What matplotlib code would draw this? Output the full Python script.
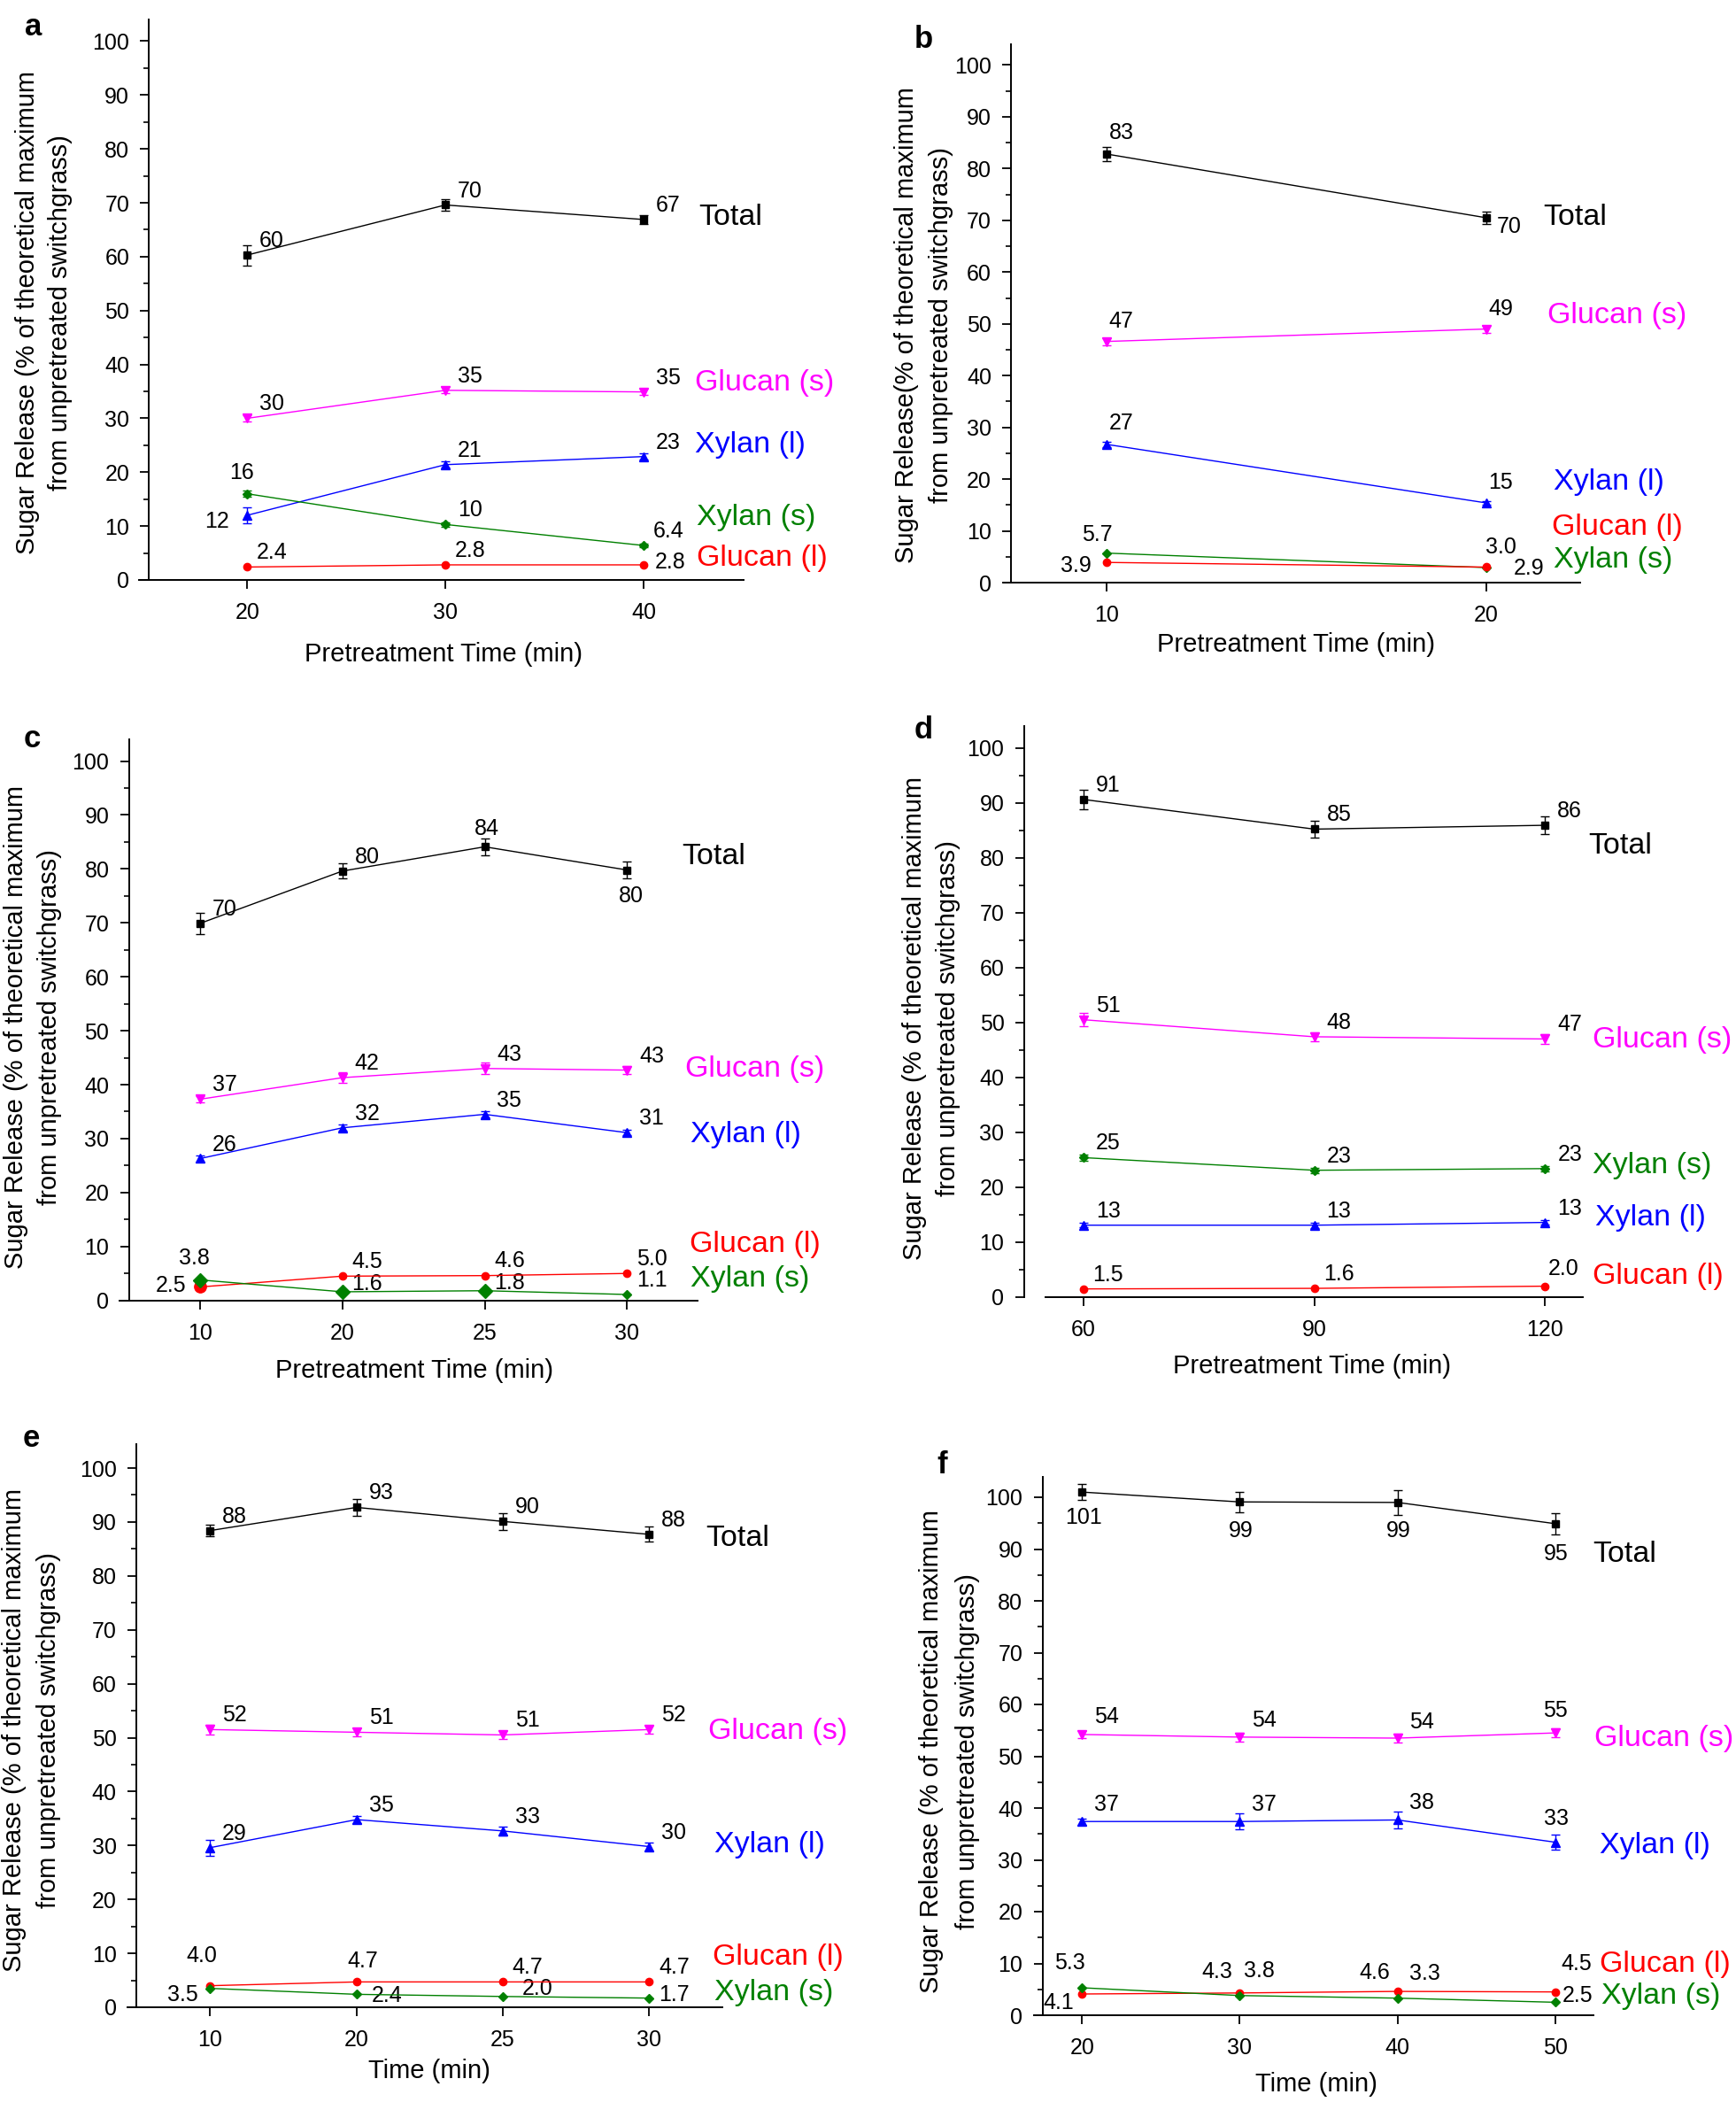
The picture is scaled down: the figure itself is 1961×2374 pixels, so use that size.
import matplotlib
matplotlib.use('Agg')
import matplotlib.pyplot as plt
from matplotlib.ticker import FixedLocator

plt.rcParams['font.family'] = ['Liberation Sans', 'DejaVu Sans']

W, H, DPI = 1961, 2374, 100

# ---------------- data ----------------
SERIES = ['Total', 'Glucan (s)', 'Xylan (l)', 'Xylan (s)', 'Glucan (l)']

# panel a
a_time = [20, 30, 40]
a_total = [60.3, 69.6, 66.9]
a_total_err = [1.9, 1.1, 0.8]
a_total_lbl = ['60', '70', '67']
a_gs = [30.0, 35.2, 34.9]
a_gs_err = [0.6, 0.6, 0.6]
a_gs_lbl = ['30', '35', '35']
a_xl = [12.0, 21.4, 22.9]
a_xl_err = [1.5, 0.6, 0.6]
a_xl_lbl = ['12', '21', '23']
a_xs = [16.0, 10.3, 6.4]
a_xs_err = [0.6, 0.4, 0.4]
a_xs_lbl = ['16', '10', '6.4']
a_gl = [2.4, 2.8, 2.8]
a_gl_lbl = ['2.4', '2.8', '2.8']

# panel b
b_time = [10, 20]
b_total = [82.8, 70.5]
b_total_err = [1.3, 1.2]
b_total_lbl = ['83', '70']
b_gs = [46.6, 49.0]
b_gs_err = [0.7, 0.7]
b_gs_lbl = ['47', '49']
b_xl = [26.7, 15.4]
b_xl_err = [0.5, 0.4]
b_xl_lbl = ['27', '15']
b_xs = [5.7, 2.9]
b_xs_lbl = ['5.7', '2.9']
b_gl = [3.9, 3.0]
b_gl_lbl = ['3.9', '3.0']

# panel c (categorical time axis)
c_time = ['10', '20', '25', '30']
c_total = [69.9, 79.6, 84.1, 79.8]
c_total_err = [2.0, 1.4, 1.5, 1.6]
c_total_lbl = ['70', '80', '84', '80']
c_gs = [37.3, 41.3, 43.0, 42.7]
c_gs_err = [0.6, 1.0, 1.1, 0.8]
c_gs_lbl = ['37', '42', '43', '43']
c_xl = [26.3, 32.0, 34.5, 31.1]
c_xl_err = [0.5, 0.6, 0.6, 0.5]
c_xl_lbl = ['26', '32', '35', '31']
c_xs = [3.8, 1.6, 1.8, 1.1]
c_xs_lbl = ['3.8', '1.6', '1.8', '1.1']
c_gl = [2.5, 4.5, 4.6, 5.0]
c_gl_lbl = ['2.5', '4.5', '4.6', '5.0']

# panel d
d_time = [60, 90, 120]
d_total = [90.6, 85.2, 85.9]
d_total_err = [1.8, 1.5, 1.65]
d_total_lbl = ['91', '85', '86']
d_gs = [50.5, 47.4, 47.0]
d_gs_err = [1.2, 0.8, 0.9]
d_gs_lbl = ['51', '48', '47']
d_xl = [13.1, 13.1, 13.6]
d_xl_err = [0.4, 0.5, 0.4]
d_xl_lbl = ['13', '13', '13']
d_xs = [25.4, 23.1, 23.4]
d_xs_err = [0.5, 0.5, 0.5]
d_xs_lbl = ['25', '23', '23']
d_gl = [1.5, 1.6, 2.0]
d_gl_lbl = ['1.5', '1.6', '2.0']

# panel e (categorical time axis)
e_time = ['10', '20', '25', '30']
e_total = [88.4, 92.7, 90.1, 87.7]
e_total_err = [1.1, 1.6, 1.6, 1.4]
e_total_lbl = ['88', '93', '90', '88']
e_gs = [51.5, 51.0, 50.5, 51.5]
e_gs_err = [0.9, 0.8, 0.7, 0.7]
e_gs_lbl = ['52', '51', '51', '52']
e_xl = [29.6, 34.8, 32.7, 29.8]
e_xl_err = [1.5, 0.6, 0.8, 0.8]
e_xl_lbl = ['29', '35', '33', '30']
e_xs = [3.5, 2.4, 2.0, 1.7]
e_xs_lbl = ['3.5', '2.4', '2.0', '1.7']
e_gl = [4.0, 4.7, 4.7, 4.7]
e_gl_lbl = ['4.0', '4.7', '4.7', '4.7']

# panel f
f_time = [20, 30, 40, 50]
f_total = [101.0, 99.1, 99.0, 94.9]
f_total_err = [1.5, 1.95, 2.4, 2.0]
f_total_lbl = ['101', '99', '99', '95']
f_gs = [54.2, 53.7, 53.5, 54.5]
f_gs_err = [0.7, 0.8, 0.8, 0.8]
f_gs_lbl = ['54', '54', '54', '55']
f_xl = [37.4, 37.4, 37.7, 33.4]
f_xl_err = [0.6, 1.5, 1.7, 1.4]
f_xl_lbl = ['37', '37', '38', '33']
f_xs = [5.3, 3.8, 3.3, 2.5]
f_xs_lbl = ['5.3', '3.8', '3.3', '2.5']
f_gl = [4.1, 4.3, 4.6, 4.5]
f_gl_lbl = ['4.1', '4.3', '4.6', '4.5']

# ---------------- styles ----------------
COL = {'Total': 'black', 'Glucan (s)': '#FF00FF', 'Xylan (l)': '#0000FF',
       'Xylan (s)': '#008000', 'Glucan (l)': '#FF0000'}
MK = {'Total': ('s', 6), 'Glucan (s)': ('v', 7), 'Xylan (l)': ('^', 7),
      'Xylan (s)': ('D', 5), 'Glucan (l)': ('o', 6)}
D = (20, 11.5)

fig = plt.figure(figsize=(W / DPI, H / DPI), dpi=DPI)


def fx(px):
    return px / W


def fy(py):
    return 1 - py / H


def make_ax(xlim, pxl, pxr, y0, y100, yspine, ytop=104, xbounds=None):
    ppu = (y0 - y100) / 100.0
    top = y0 - ytop * ppu
    ax = fig.add_axes([pxl / W, 1 - y0 / H, (pxr - pxl) / W, (y0 - top) / H])
    ax.set_xlim(*xlim)
    ax.set_ylim(0, ytop)
    for s in ['top', 'right']:
        ax.spines[s].set_visible(False)
    ax.spines['left'].set_position(('data', yspine))
    ax.spines['left'].set_bounds(0, ytop)
    if xbounds is not None:
        ax.spines['bottom'].set_bounds(*xbounds)
    for s in ['left', 'bottom']:
        ax.spines[s].set_linewidth(1.4)
    ax.yaxis.set_major_locator(FixedLocator(list(range(0, 101, 10))))
    ax.yaxis.set_minor_locator(FixedLocator(list(range(5, 100, 10))))
    ax.tick_params(axis='both', which='major', direction='out', length=7,
                   width=1.3, labelsize=18)
    ax.tick_params(axis='y', which='minor', direction='out', length=4, width=1.2)
    ax.tick_params(axis='y', which='major', pad=9)
    ax.tick_params(axis='x', which='major', pad=11)
    ax.patch.set_alpha(0)
    return ax


def draw(ax, x, series, offsets, labelpos, big=None):
    big = big or {}
    for name, (y, err, lbl) in series.items():
        m, ms = MK[name]
        c = COL[name]
        ax.errorbar(x, y, yerr=err, color=c, ecolor=c, marker=m, ms=ms,
                    mfc=c, mec=c, lw=1.0, elinewidth=1.0, capsize=3.5,
                    capthick=1.0, clip_on=False, zorder=3)
        if name in big:
            idx = big[name]
            ax.plot([x[i] for i in idx], [y[i] for i in idx], ls='none',
                    marker=m, ms=ms * 1.6, color=c, clip_on=False, zorder=4)
        offs = offsets.get(name, [D] * len(x))
        for xi, yi, t, o in zip(x, y, lbl, offs):
            ax.annotate(t, (xi, yi), xytext=o, textcoords='offset points',
                        ha='center', va='center', fontsize=18,
                        annotation_clip=False)
    for name, (lx, ly) in labelpos.items():
        ax.annotate(name, (lx, ly), xytext=(-3.5, 0), textcoords='offset points',
                    color=COL[name], fontsize=24.5, ha='left', va='center',
                    annotation_clip=False)


def ylab(x1, x2, yc, line1):
    fig.text(fx(x1), fy(yc), line1, rotation=90, ha='center', va='center',
             fontsize=21)
    fig.text(fx(x2), fy(yc), 'from unpretreated switchgrass)', rotation=90,
             ha='center', va='center', fontsize=21)


def xlab(xc, yc, t):
    fig.text(fx(xc), fy(yc), t, ha='center', va='center', fontsize=21)


def letter(xc, yc, t):
    fig.text(fx(xc), fy(yc), t, ha='center', va='center', fontsize=25,
             fontweight='bold')


L1 = 'Sugar Release (% of theoretical maximum'

# ---- panel a ----
ax = make_ax((14.54, 45.05), 157, 840, 655, 46.5, 15.05)
ax.set_xticks(a_time)
draw(ax, a_time, {
    'Total': (a_total, a_total_err, a_total_lbl),
    'Glucan (s)': (a_gs, a_gs_err, a_gs_lbl),
    'Xylan (l)': (a_xl, a_xl_err, a_xl_lbl),
    'Xylan (s)': (a_xs, a_xs_err, a_xs_lbl),
    'Glucan (l)': (a_gl, None, a_gl_lbl)},
    {'Xylan (l)': [(-25, -5), D, D],
     'Xylan (s)': [(-4.5, 17), D, D],
     'Glucan (l)': [D, D, (22, 2)]},
    {'Total': (43.0, 67.3), 'Glucan (s)': (42.8, 36.6), 'Xylan (l)': (42.8, 25.0),
     'Xylan (s)': (42.9, 11.6), 'Glucan (l)': (42.9, 4.1)})
ylab(31, 68, 353, L1)
xlab(501, 739, 'Pretreatment Time (min)')
letter(38, 31, 'a')

# ---- panel b ----
ax = make_ax((7.28, 22.48), 1134, 1785, 658, 73.5, 7.47)
ax.set_xticks(b_time)
draw(ax, b_time, {
    'Total': (b_total, b_total_err, b_total_lbl),
    'Glucan (s)': (b_gs, b_gs_err, b_gs_lbl),
    'Xylan (l)': (b_xl, b_xl_err, b_xl_lbl),
    'Xylan (s)': (b_xs, None, b_xs_lbl),
    'Glucan (l)': (b_gl, None, b_gl_lbl)},
    {'Total': [(11.5, 17), (19, -7)],
     'Glucan (s)': [(11.5, 16.5), (12, 16.5)],
     'Xylan (l)': [(11.5, 17), (12, 16.5)],
     'Xylan (s)': [(-8, 15), (35, -1)],
     'Glucan (l)': [(-25, -3), (12, 16)]},
    {'Total': (21.63, 70.6), 'Glucan (s)': (21.72, 51.6), 'Xylan (l)': (21.9, 19.4),
     'Glucan (l)': (21.84, 10.7), 'Xylan (s)': (21.9, 4.3)})
ylab(1024, 1063, 367, 'Sugar Release(% of theoretical maximum')
xlab(1464, 728, 'Pretreatment Time (min)')
letter(1043, 45, 'b')

# ---- panel c ----
ax = make_ax((-0.566, 3.496), 135, 788, 1468.7, 859.5, -0.5)
cx = list(range(len(c_time)))
ax.set_xticks(cx)
ax.set_xticklabels(c_time)
draw(ax, cx, {
    'Total': (c_total, c_total_err, c_total_lbl),
    'Glucan (s)': (c_gs, c_gs_err, c_gs_lbl),
    'Xylan (l)': (c_xl, c_xl_err, c_xl_lbl),
    'Glucan (l)': (c_gl, None, c_gl_lbl),
    'Xylan (s)': (c_xs, None, c_xs_lbl)},
    {'Total': [D, D, (2, 15), (3, -21)],
     'Xylan (s)': [(-4.5, 17.5), (20, 6.5), (20, 6), D],
     'Glucan (l)': [(-23.5, 1), D, (20, 12), D]},
    {'Total': (3.418, 82.2), 'Glucan (s)': (3.437, 42.8), 'Xylan (l)': (3.477, 30.8),
     'Glucan (l)': (3.47, 10.4), 'Xylan (s)': (3.477, 4.0)},
    big={'Xylan (s)': [0, 1, 2], 'Glucan (l)': [0]})
ylab(17.6, 56.5, 1160, L1)
xlab(468, 1548, 'Pretreatment Time (min)')
letter(36, 834, 'c')

# ---- panel d ----
ax = make_ax((52.26, 124.9), 1156.7, 1788, 1465, 844.6, 52.26, xbounds=(55.08, 124.9))
ax.set_xticks(d_time)
draw(ax, d_time, {
    'Total': (d_total, d_total_err, d_total_lbl),
    'Glucan (s)': (d_gs, d_gs_err, d_gs_lbl),
    'Xylan (s)': (d_xs, d_xs_err, d_xs_lbl),
    'Xylan (l)': (d_xl, d_xl_err, d_xl_lbl),
    'Glucan (l)': (d_gl, None, d_gl_lbl)},
    {'Glucan (l)': [D, D, (15, 14)]},
    {'Total': (126.2, 82.1), 'Glucan (s)': (126.7, 46.9), 'Xylan (s)': (126.7, 23.9),
     'Xylan (l)': (127.1, 14.4), 'Glucan (l)': (126.7, 3.8)})
ylab(1033, 1071, 1150, L1)
xlab(1482, 1543, 'Pretreatment Time (min)')
letter(1043, 824, 'd')

# ---- panel e ----
ax = make_ax((-0.562, 3.502), 144.4, 816.5, 2267, 1658, -0.505, ytop=104.5)
ex = list(range(len(e_time)))
ax.set_xticks(ex)
ax.set_xticklabels(e_time)
draw(ax, ex, {
    'Total': (e_total, e_total_err, e_total_lbl),
    'Glucan (s)': (e_gs, e_gs_err, e_gs_lbl),
    'Xylan (l)': (e_xl, e_xl_err, e_xl_lbl),
    'Glucan (l)': (e_gl, None, e_gl_lbl),
    'Xylan (s)': (e_xs, None, e_xs_lbl)},
    {'Glucan (l)': [(-7, 24), (5, 17), D, D],
     'Xylan (s)': [(-22.5, -5.5), (25, -1), (28, 6), (20, 2.5)]},
    {'Total': (3.418, 86.9), 'Glucan (s)': (3.433, 51.1), 'Xylan (l)': (3.471, 30.1),
     'Glucan (l)': (3.463, 9.2), 'Xylan (s)': (3.471, 2.7)})
ylab(15.7, 55.3, 1954, L1)
xlab(485, 2339, 'Time (min)')
letter(35, 1625, 'e')

# ---- panel f ----
ax = make_ax((16.94, 52.4), 1167.7, 1799.6, 2276, 1691, 17.49)
ax.set_xticks(f_time)
draw(ax, f_time, {
    'Total': (f_total, f_total_err, f_total_lbl),
    'Glucan (s)': (f_gs, f_gs_err, f_gs_lbl),
    'Xylan (l)': (f_xl, f_xl_err, f_xl_lbl),
    'Glucan (l)': (f_gl, None, f_gl_lbl),
    'Xylan (s)': (f_xs, None, f_xs_lbl)},
    {'Total': [(1, -21), (1, -23.5), (1, -23), (1, -24.5)],
     'Glucan (s)': [(20, 14), (20, 13.5), (20, 13), (0, 18)],
     'Xylan (l)': [(20, 14), (20, 14), (20, 14), (1, 19.5)],
     'Glucan (l)': [(-19, -7), (-18.5, 17.5), (-18.5, 15), (17, 23)],
     'Xylan (s)': [(-10, 20), (16, 20), (22, 20), (18, 5)]},
    {'Total': (52.65, 88.9), 'Glucan (s)': (52.76, 53.4), 'Xylan (l)': (53.1, 32.8),
     'Glucan (l)': (53.07, 9.8), 'Xylan (s)': (53.2, 3.6)})
ylab(1052, 1093, 1978, L1)
xlab(1487, 2354, 'Time (min)')
letter(1064, 1654, 'f')

fig.savefig('out.png', dpi=DPI)
